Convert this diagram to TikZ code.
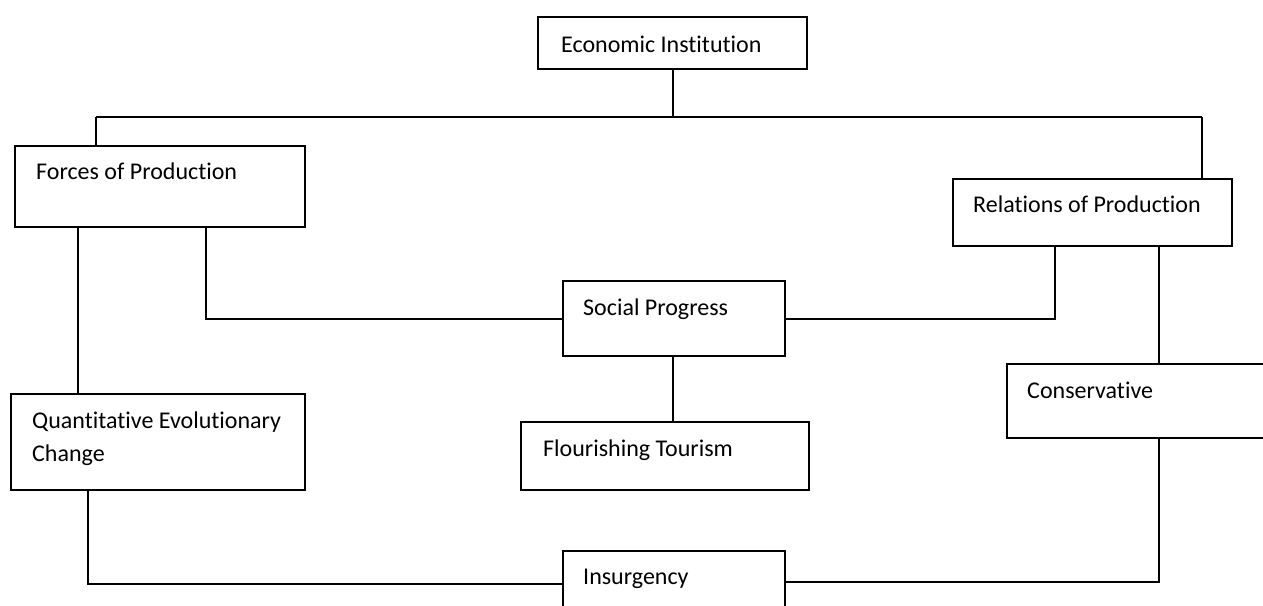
\documentclass[tikz,border=0pt]{standalone}
\usepackage{fontspec}
\setmainfont{Carlito}[Ligatures={NoCommon}]
\begin{document}
\begin{tikzpicture}[x=1pt,y=-1pt,
  box/.style={draw=black,line width=2.2pt,rectangle,inner sep=0pt},
  lbl/.style={anchor=base west,inner sep=0pt,font=\fontsize{24}{33.4}\selectfont,align=left},
  conn/.style={draw=black,line width=2pt}]
\useasboundingbox (0,0) rectangle (1263,605);
\clip (0,0) rectangle (1263,605);
\fill[white] (0,0) rectangle (1263,605);
% boxes
\node[box,minimum width=269pt,minimum height=52pt] (econ) at (672.5,43) {};
\node[box,minimum width=290pt,minimum height=81pt] (forces) at (160,186.5) {};
\node[box,minimum width=279pt,minimum height=67pt] (rel) at (1092.5,212.5) {};
\node[box,minimum width=222pt,minimum height=75pt] (social) at (674,318.5) {};
\node[box,minimum width=294pt,minimum height=96pt] (quant) at (158,442) {};
\node[box,minimum width=288pt,minimum height=68pt] (flour) at (665,456) {};
\node[box,minimum width=280pt,minimum height=74pt] (cons) at (1147,401) {};
\node[box,minimum width=222pt,minimum height=70pt] (insurg) at (674,586) {};
% texts
\node[lbl] (econ-t) at (561,52.5) {Economic Institution};
\node[lbl] (forces-t) at (36,179) {Forces of Production};
\node[lbl] (rel-t) at (973,212) {Relations of Production};
\node[lbl] (social-t) at (583,315) {Social Progress};
\node[lbl] (quant-t) at (32,461.7) {Quantitative Evolutionary\\Change};
\node[lbl] (flour-t) at (543,456) {Flourishing Tourism};
\node[lbl] (cons-t) at (1027,398.3) {Conservative};
\node[lbl] (insurg-t) at (583,584) {Insurgency};
% junction coordinates
\coordinate (j1) at (672.5,117);
\coordinate (jl) at (96,117);
\coordinate (jr) at (1202,117);
% connectors
\draw[conn] (econ.south) -- (j1);
\draw[conn] (jl) -- (jr);
\draw[conn] (jl) -- (jl |- forces.north);
\draw[conn] (jr) -- (jr |- rel.north);
\draw[conn] (forces.south -| 78,0) -- (quant.north -| 78,0);
\draw[conn] (forces.south -| 206,0) |- (social.west);
\draw[conn] (social.east) -| (rel.south -| 1055,0);
\draw[conn] (rel.south -| 1159,0) -- (cons.north -| 1159,0);
\draw[conn] (social.south -| 673,0) -- (flour.north -| 673,0);
\draw[conn] (quant.south -| 88,0) |- (insurg.west |- 0,584);
\draw[conn] (cons.south -| 1159,0) |- (insurg.east |- 0,582);
\end{tikzpicture}
\end{document}
